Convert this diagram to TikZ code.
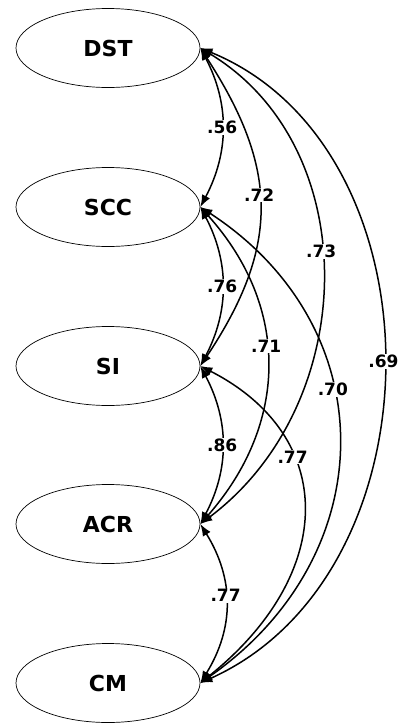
\documentclass[tikz,border=0pt]{standalone}
\usepackage{fontspec}
\setmainfont{DejaVu Sans}
\usetikzlibrary{arrows.meta, shapes.geometric}
\begin{document}
\begin{tikzpicture}
        [x=1pt, y=-1pt,
        factor/.style={ellipse, draw, line width=0.7pt, minimum width=184pt, minimum height=79pt,
            inner sep=0pt, font=\fontsize{22}{25}\selectfont\bfseries},
        corr/.style={line width=1.5pt, black,
            {Latex[length=12pt,width=9pt]}-{Latex[length=12pt,width=9pt]}},
        coef/.style={fill=white, inner sep=1pt, font=\fontsize{17}{20}\selectfont\bfseries}]

        \useasboundingbox (0,0) rectangle (398,723);

        \node[factor] (DST) at (108, 48) {DST};
        \node[factor] (SCC) at (108, 207) {SCC};
        \node[factor] (SI) at (108, 366) {SI};
        \node[factor] (ACR) at (108, 524) {ACR};
        \node[factor] (CM) at (108, 683) {CM};

        % neighbouring factors
        \draw[corr] (DST.east) .. controls +(29,55) and +(29,-55) .. (SCC.east) node[coef, pos=0.5] {.56};
        \draw[corr] (SCC.east) .. controls +(29,55) and +(29,-55) .. (SI.east) node[coef, pos=0.5] {.76};
        \draw[corr] (SI.east) .. controls +(29,55) and +(29,-55) .. (ACR.east) node[coef, pos=0.5] {.86};
        \draw[corr] (ACR.east) .. controls +(34,55) and +(34,-55) .. (CM.east) node[coef, pos=0.45] {.77};

        % longer spans
        \draw[corr] (DST.east) .. controls +(78,120) and +(80,-120) .. (SI.east) node[coef, pos=0.46] {.72};
        \draw[corr] (SCC.east) .. controls +(90,100) and +(88,-100) .. (ACR.east) node[coef, pos=0.44] {.71};
        \draw[corr] (SI.east) .. controls +(137,70) and +(137,-110) .. (CM.east) node[coef, pos=0.34] {.77};
        \draw[corr] (DST.east) .. controls +(165,100) and +(160,-120) .. (ACR.east) node[coef, pos=0.45] {.73};
        \draw[corr] (SCC.east) .. controls +(184,120) and +(184,-129) .. (CM.east) node[coef, pos=0.4] {.70};
        \draw[corr] (DST.east) .. controls +(244,100) and +(244,-110) .. (CM.east) node[coef, pos=0.5] {.69};

    \end{tikzpicture}
\end{document}
